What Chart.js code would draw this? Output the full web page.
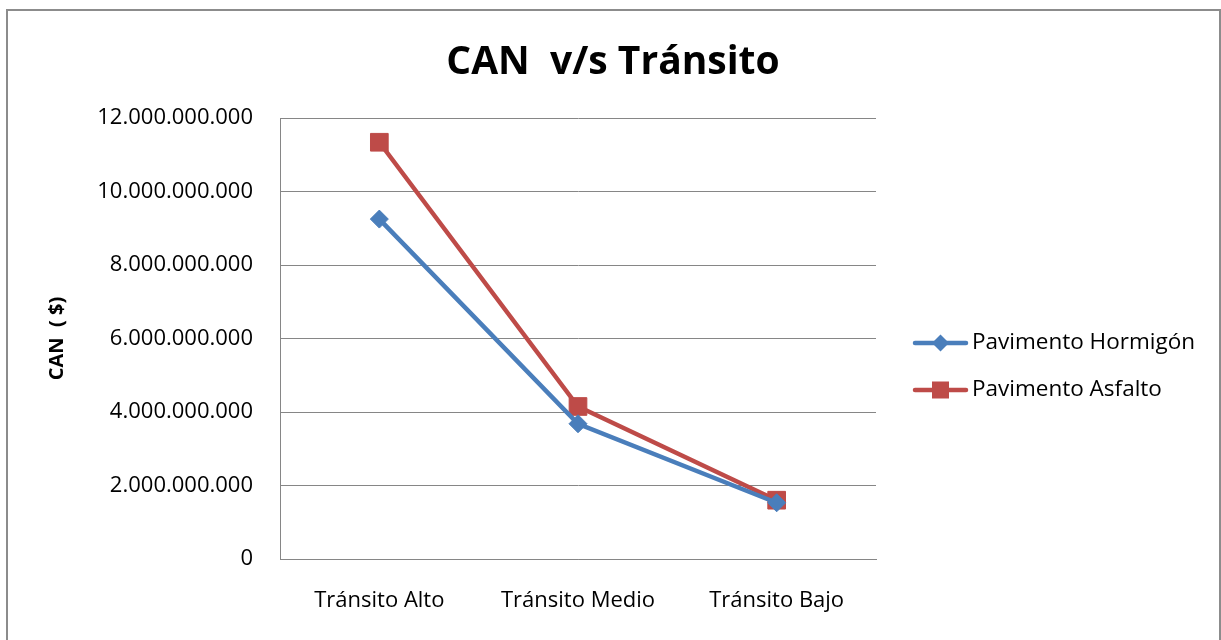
<!DOCTYPE html>
<html>
<head>
<meta charset="utf-8">
<script src="https://cdn.jsdelivr.net/npm/chart.js@4.4.0/dist/chart.umd.min.js"></script>
<style>
  html, body { margin: 0; padding: 0; background: #ffffff; }
  #wrap { position: relative; width: 1221px; height: 640px; }
</style>
</head>
<body>
<div id="wrap"><canvas id="c" width="1221" height="640"></canvas></div>
<script>
const categories = ['Tránsito Alto', 'Tránsito Medio', 'Tránsito Bajo'];
const hormigon = [9250000000, 3680000000, 1530000000];
const asfalto = [11340000000, 4150000000, 1600000000];
const seriesNames = ['Pavimento Hormigón', 'Pavimento Asfalto'];
const chartTitle = 'CAN  v/s Tránsito';
const yTitle = 'CAN  ( $)';

const BLUE = '#4a7ebb';
const RED = '#be4b48';
const GRID = '#868686';
const FONT = "'Open Sans', 'Liberation Sans', sans-serif";

function fmt(v) {
  return String(Math.round(v)).replace(/\B(?=(\d{3})+(?!\d))/g, '.');
}

const frame = {
  id: 'frame',
  beforeDraw(chart) {
    const ctx = chart.ctx;
    ctx.save();
    ctx.fillStyle = '#ffffff';
    ctx.fillRect(0, 0, chart.width, chart.height);
    ctx.strokeStyle = '#8c8c8c';
    ctx.lineWidth = 2;
    ctx.strokeRect(7, 10, 1213, 660);
    ctx.restore();
  },
  afterDraw(chart) {
    const ctx = chart.ctx;
    ctx.save();
    ctx.fillStyle = '#000000';
    ctx.font = 'bold 39px ' + FONT;
    ctx.textAlign = 'center';
    ctx.textBaseline = 'middle';
    ctx.fillText(chartTitle, 613, 63);
    ctx.restore();
  }
};

const legendPlugin = {
  id: 'customLegend',
  afterDraw(chart) {
    const ctx = chart.ctx;
    const items = chart.data.datasets;
    const x0 = 915, x1 = 966, tx = 972;
    const ys = [343, 390];
    ctx.save();
    items.forEach((ds, i) => {
      const y = ys[i];
      ctx.strokeStyle = ds.borderColor;
      ctx.lineWidth = ds.borderWidth;
      ctx.lineCap = 'round';
      ctx.beginPath();
      ctx.moveTo(x0, y);
      ctx.lineTo(x1, y);
      ctx.stroke();
      ctx.fillStyle = ds.borderColor;
      const cx = (x0 + x1) / 2;
      if (ds.pointStyle === 'rectRot') {
        const r = 8.5;
        ctx.beginPath();
        ctx.moveTo(cx, y - r); ctx.lineTo(cx + r, y); ctx.lineTo(cx, y + r); ctx.lineTo(cx - r, y);
        ctx.closePath(); ctx.fill();
      } else {
        const h = 8.5;
        ctx.fillRect(cx - h, y - h, 2 * h, 2 * h);
      }
      ctx.fillStyle = '#000000';
      ctx.font = '22.5px ' + FONT;
      ctx.textAlign = 'left';
      ctx.textBaseline = 'middle';
      ctx.fillText(ds.label, tx, y);
    });
    ctx.restore();
  }
};

new Chart(document.getElementById('c'), {
  type: 'line',
  data: {
    labels: categories,
    datasets: [
      {
        label: seriesNames[0],
        data: hormigon,
        borderColor: BLUE,
        backgroundColor: BLUE,
        borderWidth: 4.5,
        pointStyle: 'rectRot',
        pointRadius: 9,
        pointBorderWidth: 1,
        pointBackgroundColor: BLUE,
        pointBorderColor: BLUE,
        tension: 0
      },
      {
        label: seriesNames[1],
        data: asfalto,
        borderColor: RED,
        backgroundColor: RED,
        borderWidth: 4.5,
        pointStyle: 'rect',
        pointRadius: 12.5,
        pointBorderWidth: 1,
        pointBackgroundColor: RED,
        pointBorderColor: RED,
        tension: 0
      }
    ]
  },
  options: {
    responsive: false,
    animation: false,
    layout: { padding: { left: 36, right: 345, top: 118, bottom: 0 } },
    plugins: {
      legend: { display: false },
      tooltip: { enabled: false },
      title: { display: false }
    },
    scales: {
      x: {
        offset: true,
        grid: { display: false, drawTicks: false },
        border: { display: true, color: GRID, width: 1 },
        ticks: { color: '#000000', font: { family: FONT, size: 22 }, padding: 29, maxRotation: 0 },
        afterFit(scale) { scale.height = 81; }
      },
      y: {
        min: 0,
        max: 12000000000,
        grid: { color: GRID, lineWidth: 1, drawTicks: false },
        border: { display: true, color: GRID, width: 1 },
        ticks: {
          stepSize: 2000000000,
          color: '#000000',
          font: { family: FONT, size: 22 },
          padding: 27,
          callback: (v) => fmt(v)
        },
        title: {
          display: true,
          text: yTitle,
          color: '#000000',
          font: { family: FONT, size: 20, weight: 'bold' },
          padding: { top: 9, bottom: 0 }
        },
        afterFit(scale) { scale.width = 280 - 36; }
      }
    }
  },
  plugins: [frame, legendPlugin]
});
</script>
</body>
</html>
